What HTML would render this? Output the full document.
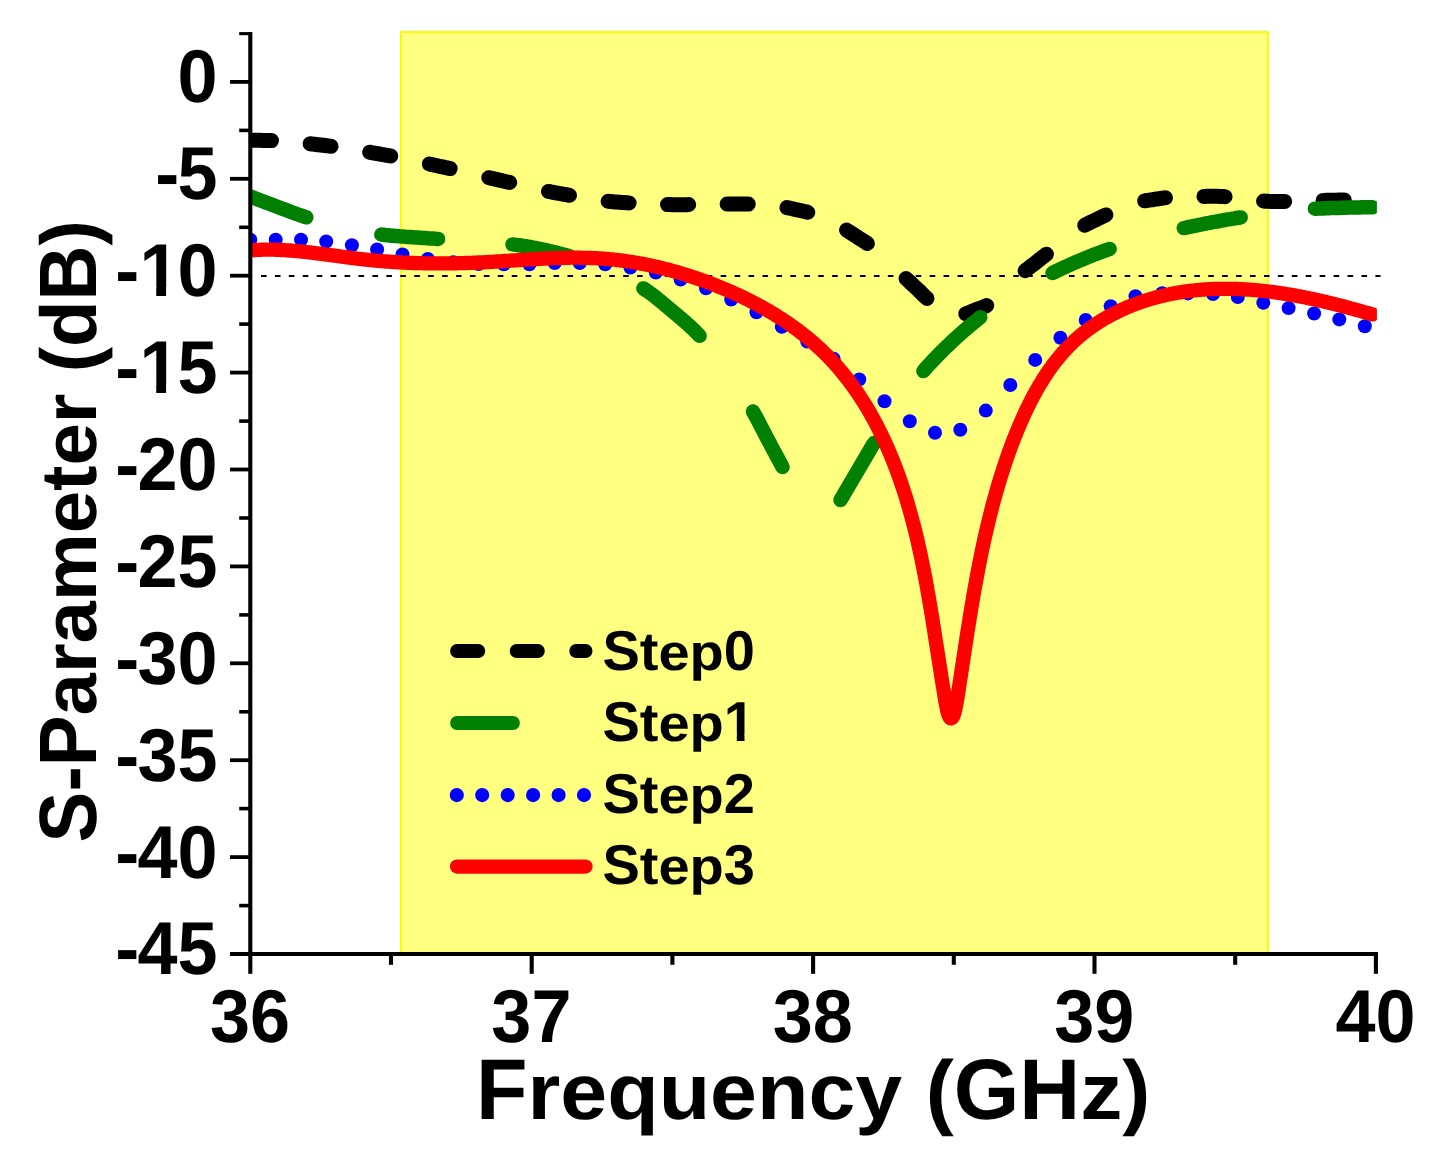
<!DOCTYPE html>
<html><head><meta charset="utf-8"><title>S-Parameter vs Frequency</title>
<style>
html,body{margin:0;padding:0;background:#fff;}
body{width:1449px;height:1173px;overflow:hidden;font-family:"Liberation Sans",sans-serif;}
svg{display:block;}
</style></head><body>
<svg width="1449" height="1173" viewBox="0 0 1449 1173">
<rect x="0" y="0" width="1449" height="1173" fill="#fff"/>
<rect x="400" y="31" width="869" height="923" fill="#ffff80"/>
<rect x="401" y="32" width="867" height="923" fill="none" stroke="#fcfc00" stroke-width="2"/>
<defs><clipPath id="cp"><rect x="250.3" y="20" width="1126.6" height="935"/></clipPath></defs>
<line x1="261" y1="276" x2="1380.5" y2="276" stroke="#000" stroke-width="2.2" stroke-dasharray="5.6 8.33" stroke-linecap="butt"/>
<g clip-path="url(#cp)" fill="none" stroke-linecap="round" stroke-linejoin="round">
<path d="M250.3,140.2 L251.8,140.2 L253.3,140.2 L254.8,140.2 L256.4,140.2 L257.9,140.3 L259.4,140.3 L260.9,140.3 L262.4,140.4 L263.9,140.4 L265.4,140.4 L266.9,140.5 L268.4,140.5 L270.0,140.6 L271.5,140.6" stroke="#000" stroke-width="15.0"/>
<path d="M310.1,143.8 L311.6,144.0 L313.1,144.1 L314.6,144.3 L316.1,144.5 L317.6,144.7 L319.1,144.8 L320.6,145.0 L322.1,145.2 L323.6,145.3 L325.1,145.5 L326.6,145.7 L328.1,145.9 L329.6,146.1 L331.1,146.3" stroke="#000" stroke-width="15.0"/>
<path d="M369.6,152.3 L371.1,152.5 L372.6,152.8 L374.1,153.1 L375.6,153.3 L377.1,153.6 L378.6,153.8 L380.1,154.1 L381.5,154.4 L383.0,154.6 L384.5,154.9 L386.0,155.2 L387.5,155.4 L389.0,155.7 L390.5,156.0 L390.8,156.0" stroke="#000" stroke-width="15.0"/>
<path d="M429.3,164.0 L430.8,164.3 L432.2,164.7 L433.7,165.0 L435.2,165.3 L436.7,165.6 L438.1,166.0 L439.6,166.3 L441.1,166.6 L442.6,166.9 L444.0,167.2 L445.5,167.6 L447.0,167.9 L448.5,168.2 L449.9,168.6 L450.2,168.6" stroke="#000" stroke-width="15.0"/>
<path d="M488.8,177.7 L490.3,178.0 L491.8,178.4 L493.2,178.7 L494.7,179.0 L496.2,179.4 L497.7,179.7 L499.1,180.1 L500.6,180.4 L502.1,180.7 L503.6,181.1 L505.0,181.4 L506.5,181.8 L508.0,182.1 L509.5,182.4 L509.7,182.5" stroke="#000" stroke-width="15.0"/>
<path d="M548.4,191.4 L549.9,191.7 L551.3,192.0 L552.8,192.3 L554.3,192.5 L555.8,192.8 L557.3,193.1 L558.8,193.4 L560.2,193.6 L561.7,193.9 L563.2,194.2 L564.7,194.4 L566.2,194.7 L567.7,195.0 L569.2,195.2 L569.5,195.3" stroke="#000" stroke-width="15.0"/>
<path d="M608.1,201.3 L609.6,201.4 L611.1,201.6 L612.6,201.7 L614.1,201.9 L615.6,202.0 L617.1,202.1 L618.6,202.2 L620.1,202.3 L621.6,202.4 L623.1,202.5 L624.6,202.6 L626.1,202.7 L627.6,202.8 L629.1,202.9" stroke="#000" stroke-width="15.0"/>
<path d="M667.5,204.6 L669.1,204.6 L670.6,204.6 L672.1,204.7 L673.6,204.7 L675.1,204.7 L676.6,204.7 L678.1,204.7 L679.6,204.7 L681.1,204.7 L682.7,204.7 L684.2,204.7 L685.7,204.7 L687.2,204.7 L688.7,204.6" stroke="#000" stroke-width="15.0"/>
<path d="M727.1,204.0 L728.6,204.0 L730.1,203.9 L731.7,203.9 L733.2,203.9 L734.7,203.9 L736.2,203.9 L737.7,203.9 L739.2,203.9 L740.7,203.9 L742.2,203.9 L743.7,204.0 L745.3,204.0 L746.8,204.1 L748.3,204.1" stroke="#000" stroke-width="15.0"/>
<path d="M786.9,207.6 L788.3,207.9 L789.8,208.2 L791.3,208.5 L792.8,208.8 L794.2,209.2 L795.7,209.6 L797.2,209.9 L798.7,210.2 L800.2,210.5 L801.6,210.9 L803.1,211.2 L804.6,211.5 L806.1,211.8 L807.5,212.2 L807.8,212.3" stroke="#000" stroke-width="15.0"/>
<path d="M846.5,230.1 L847.8,230.9 L849.1,231.7 L850.4,232.5 L851.7,233.3 L852.9,234.2 L854.2,235.0 L855.4,235.8 L856.7,236.7 L858.0,237.5 L859.3,238.3 L860.6,239.1 L861.8,239.9 L863.1,240.7 L864.4,241.5 L865.7,242.3 L866.9,243.2 L867.4,243.5" stroke="#000" stroke-width="15.0"/>
<path d="M906.0,278.5 L907.1,279.5 L908.2,280.5 L909.3,281.5 L910.4,282.6 L911.5,283.6 L912.6,284.6 L913.7,285.7 L914.8,286.7 L915.9,287.8 L917.0,288.8 L918.1,289.8 L919.2,290.9 L920.3,291.9 L921.3,293.0 L922.4,294.1 L923.5,295.1 L924.6,296.2 L925.7,297.2 L926.8,298.2 L927.0,298.4" stroke="#000" stroke-width="15.0"/>
<path d="M965.7,313.7 L967.1,313.2 L968.5,312.7 L969.9,312.2 L971.3,311.6 L972.7,311.0 L974.1,310.5 L975.5,309.9 L976.9,309.4 L978.4,308.8 L979.8,308.3 L981.3,307.8 L982.7,307.3 L984.1,306.7 L985.8,306.0 L986.8,305.5" stroke="#000" stroke-width="15.0"/>
<path d="M1025.1,270.8 L1026.3,269.8 L1027.5,268.9 L1028.7,268.0 L1029.9,267.0 L1031.1,266.1 L1032.3,265.2 L1033.5,264.3 L1034.7,263.4 L1035.9,262.4 L1037.1,261.5 L1038.3,260.6 L1039.4,259.6 L1040.6,258.7 L1041.8,257.8 L1043.0,256.8 L1044.2,255.9 L1045.4,255.0 L1046.4,254.2" stroke="#000" stroke-width="15.0"/>
<path d="M1084.7,225.3 L1086.3,224.4 L1087.7,223.7 L1089.0,223.0 L1090.4,222.4 L1091.7,221.7 L1093.1,221.1 L1094.5,220.4 L1095.9,219.8 L1097.2,219.1 L1098.6,218.4 L1099.9,217.8 L1101.3,217.1 L1102.6,216.4 L1104.0,215.8 L1105.4,215.2 L1105.9,214.9" stroke="#000" stroke-width="15.0"/>
<path d="M1144.6,200.8 L1146.4,200.5 L1147.8,200.3 L1149.3,200.1 L1150.8,199.9 L1152.4,199.7 L1153.9,199.5 L1155.4,199.2 L1156.8,199.0 L1158.3,198.8 L1159.8,198.5 L1161.3,198.3 L1162.8,198.1 L1164.3,197.9 L1165.5,197.8" stroke="#000" stroke-width="15.0"/>
<path d="M1203.9,196.4 L1205.4,196.4 L1207.0,196.3 L1208.5,196.3 L1210.0,196.3 L1211.5,196.3 L1213.0,196.3 L1214.5,196.3 L1216.0,196.3 L1217.5,196.3 L1219.0,196.4 L1220.5,196.4 L1222.0,196.5 L1223.6,196.6 L1225.1,196.7" stroke="#000" stroke-width="15.0"/>
<path d="M1263.6,201.1 L1265.1,201.2 L1266.6,201.3 L1268.1,201.3 L1269.6,201.4 L1271.1,201.5 L1272.7,201.5 L1274.2,201.5 L1275.7,201.5 L1277.2,201.5 L1278.7,201.5 L1280.2,201.5 L1281.7,201.5 L1283.2,201.4 L1284.7,201.4" stroke="#000" stroke-width="15.0"/>
<path d="M1323.1,200.4 L1324.7,200.4 L1326.2,200.3 L1327.7,200.3 L1329.2,200.3 L1330.7,200.2 L1332.2,200.2 L1333.7,200.2 L1335.2,200.2 L1336.8,200.2 L1338.3,200.1 L1339.8,200.1 L1341.3,200.1 L1342.8,200.1 L1344.3,200.1" stroke="#000" stroke-width="15.0"/>
<path d="M250.3,196.5 L251.9,197.1 L253.5,197.7 L255.2,198.4 L256.8,199.0 L258.4,199.6 L260.0,200.2 L261.6,200.9 L263.3,201.5 L264.9,202.1 L266.5,202.7 L268.1,203.3 L269.8,203.9 L271.4,204.5 L273.0,205.1 L274.6,205.7 L276.3,206.4 L277.9,207.0 L279.5,207.6 L281.1,208.2 L282.8,208.8 L284.4,209.4 L286.0,210.0 L287.6,210.6 L289.3,211.3 L290.9,211.9 L292.5,212.5 L294.2,213.1 L295.8,213.7 L297.4,214.3 L299.1,214.9 L300.7,215.4 L302.3,216.0 L304.0,216.5 L305.6,217.1 L306.3,217.3" stroke="#008000" stroke-width="14.5"/>
<path d="M381.3,234.6 L383.0,234.8 L384.8,235.0 L386.5,235.2 L388.2,235.3 L389.9,235.5 L391.7,235.7 L393.4,235.8 L395.1,236.0 L396.8,236.1 L398.6,236.2 L400.3,236.4 L402.0,236.5 L403.8,236.6 L405.5,236.8 L407.2,236.9 L409.0,237.0 L410.7,237.1 L412.4,237.2 L414.2,237.4 L415.9,237.5 L417.6,237.6 L419.4,237.7 L421.1,237.8 L422.8,237.9 L424.6,238.0 L426.3,238.1 L428.0,238.3 L429.8,238.4 L431.5,238.5 L433.2,238.6 L435.0,238.7 L436.7,238.9 L438.1,238.9" stroke="#008000" stroke-width="14.5"/>
<path d="M512.5,244.4 L514.3,244.6 L516.0,244.9 L517.7,245.1 L519.4,245.3 L521.1,245.5 L522.8,245.8 L524.6,246.1 L526.3,246.3 L528.0,246.6 L529.7,246.9 L531.4,247.2 L533.1,247.6 L534.8,247.9 L536.6,248.2 L538.3,248.6 L540.0,248.9 L541.7,249.3 L543.4,249.7 L545.1,250.0 L546.8,250.4 L548.5,250.8 L550.2,251.2 L551.9,251.6 L553.6,252.0 L555.3,252.4 L556.9,252.9 L558.6,253.3 L560.3,253.7 L562.0,254.2 L563.7,254.6 L565.3,255.0 L567.0,255.5 L568.7,255.9 L569.3,256.1" stroke="#008000" stroke-width="14.5"/>
<path d="M643.3,288.4 L644.8,289.4 L646.2,290.3 L647.6,291.3 L649.1,292.3 L650.5,293.3 L651.8,294.3 L653.2,295.4 L654.6,296.4 L656.0,297.5 L657.3,298.6 L658.7,299.7 L660.0,300.8 L661.4,301.9 L662.7,303.0 L664.1,304.2 L665.4,305.3 L666.7,306.4 L668.1,307.5 L669.4,308.7 L670.7,309.8 L672.1,310.9 L673.4,312.0 L674.7,313.1 L676.1,314.2 L677.4,315.3 L678.7,316.5 L680.1,317.6 L681.4,318.7 L682.7,319.9 L684.1,321.0 L685.4,322.1 L686.7,323.3 L688.0,324.5 L689.3,325.6 L690.6,326.8 L691.8,328.0 L693.1,329.2 L694.3,330.4 L695.5,331.6 L696.8,332.8 L698.0,334.1 L699.1,335.3 L699.6,335.8" stroke="#008000" stroke-width="14.5"/>
<path d="M753.0,411.6 L753.8,413.0 L754.7,414.6 L755.5,416.1 L756.4,417.6 L757.2,419.1 L758.0,420.6 L758.8,422.2 L759.6,423.7 L760.4,425.3 L761.2,426.8 L762.0,428.4 L762.8,429.9 L763.6,431.4 L764.4,433.0 L765.2,434.5 L766.0,436.1 L766.8,437.6 L767.6,439.2 L768.4,440.7 L769.3,442.2 L770.1,443.7 L770.9,445.3 L771.7,446.8 L772.5,448.3 L773.3,449.9 L774.2,451.4 L775.0,452.9 L775.8,454.5 L776.6,456.0 L777.4,457.5 L778.3,459.1 L779.1,460.6 L779.9,462.1 L780.7,463.7 L781.5,465.2 L782.3,466.7 L782.5,467.0" stroke="#008000" stroke-width="14.5"/>
<path d="M840.5,500.0 L841.4,498.5 L842.3,497.0 L843.2,495.5 L844.0,494.0 L844.9,492.5 L845.8,491.0 L846.7,489.5 L847.6,488.0 L848.4,486.5 L849.3,485.0 L850.2,483.5 L851.1,482.0 L852.0,480.6 L852.8,479.1 L853.7,477.6 L854.6,476.1 L855.5,474.6 L856.4,473.1 L857.3,471.6 L858.1,470.1 L859.0,468.6 L859.9,467.1 L860.8,465.6 L861.6,464.1 L862.5,462.6 L863.4,461.1 L864.3,459.6 L865.2,458.1 L866.0,456.6 L866.9,455.1 L867.8,453.6 L868.7,452.1 L869.6,450.6 L870.4,449.1 L871.3,447.6 L872.2,446.1 L873.1,444.6 L874.0,443.2 L874.2,442.9" stroke="#008000" stroke-width="14.5"/>
<path d="M923.4,371.1 L924.5,369.8 L925.6,368.5 L926.8,367.2 L928.0,365.9 L929.1,364.6 L930.3,363.3 L931.5,362.0 L932.7,360.8 L933.9,359.5 L935.1,358.3 L936.3,357.0 L937.5,355.8 L938.7,354.5 L939.9,353.3 L941.2,352.0 L942.4,350.8 L943.6,349.6 L944.9,348.4 L946.1,347.2 L947.4,346.0 L948.6,344.8 L949.9,343.6 L951.1,342.4 L952.4,341.2 L953.7,340.0 L954.9,338.8 L956.2,337.7 L957.5,336.5 L958.8,335.3 L960.1,334.2 L961.4,333.0 L962.7,331.9 L964.0,330.7 L965.3,329.6 L966.7,328.5 L968.0,327.4 L969.3,326.2 L970.6,325.1 L972.0,324.0 L973.3,322.9 L974.7,321.8 L976.0,320.7 L977.4,319.6 L978.7,318.5 L980.1,317.4 L980.3,317.2" stroke="#008000" stroke-width="14.5"/>
<path d="M1052.6,272.9 L1054.2,272.1 L1055.7,271.4 L1057.3,270.6 L1058.9,269.9 L1060.4,269.1 L1062.0,268.4 L1063.6,267.7 L1065.2,267.0 L1066.8,266.2 L1068.3,265.5 L1069.9,264.8 L1071.5,264.1 L1073.1,263.4 L1074.7,262.7 L1076.3,262.0 L1077.9,261.3 L1079.5,260.6 L1081.1,260.0 L1082.7,259.3 L1084.3,258.6 L1085.9,258.0 L1087.5,257.3 L1089.1,256.7 L1090.7,256.0 L1092.3,255.4 L1093.9,254.7 L1095.6,254.1 L1097.2,253.5 L1098.8,252.9 L1100.4,252.3 L1102.1,251.6 L1103.7,251.0 L1105.3,250.5 L1107.0,249.9 L1108.6,249.3 L1109.6,248.9" stroke="#008000" stroke-width="14.5"/>
<path d="M1183.8,228.1 L1185.5,227.8 L1187.2,227.4 L1188.8,227.0 L1190.5,226.7 L1192.2,226.3 L1193.9,226.0 L1195.6,225.6 L1197.3,225.3 L1199.0,224.9 L1200.7,224.6 L1202.4,224.2 L1204.1,223.9 L1205.9,223.5 L1207.6,223.2 L1209.3,222.9 L1211.0,222.5 L1212.7,222.2 L1214.4,221.9 L1216.1,221.6 L1217.8,221.3 L1219.5,221.0 L1221.2,220.6 L1222.9,220.3 L1224.6,220.0 L1226.4,219.7 L1228.1,219.4 L1229.8,219.2 L1231.5,218.9 L1233.2,218.6 L1234.9,218.3 L1236.6,218.0 L1238.3,217.8 L1240.1,217.5 L1240.7,217.4" stroke="#008000" stroke-width="14.5"/>
<path d="M1314.9,208.7 L1316.6,208.7 L1318.3,208.6 L1320.1,208.5 L1321.8,208.4 L1323.5,208.4 L1325.3,208.3 L1327.0,208.2 L1328.7,208.2 L1330.5,208.1 L1332.2,208.1 L1334.0,208.0 L1335.7,208.0 L1337.4,207.9 L1339.2,207.9 L1340.9,207.8 L1342.6,207.8 L1344.4,207.7 L1346.1,207.7 L1347.8,207.6 L1349.6,207.6 L1351.3,207.5 L1353.1,207.5 L1354.8,207.5 L1356.5,207.4 L1358.3,207.4 L1360.0,207.4 L1361.7,207.3 L1363.5,207.3 L1365.2,207.3 L1366.9,207.3 L1368.7,207.2 L1370.4,207.2 L1372.2,207.2 L1372.5,207.2" stroke="#008000" stroke-width="14.5"/>
<circle cx="250.3" cy="239.7" r="7.0" fill="#0000ff"/>
<circle cx="275.7" cy="239.7" r="7.0" fill="#0000ff"/>
<circle cx="301.0" cy="239.7" r="7.0" fill="#0000ff"/>
<circle cx="326.2" cy="241.5" r="7.0" fill="#0000ff"/>
<circle cx="351.9" cy="245.3" r="7.0" fill="#0000ff"/>
<circle cx="377.1" cy="249.5" r="7.0" fill="#0000ff"/>
<circle cx="402.5" cy="254.4" r="7.0" fill="#0000ff"/>
<circle cx="427.8" cy="259.0" r="7.0" fill="#0000ff"/>
<circle cx="453.2" cy="262.2" r="7.0" fill="#0000ff"/>
<circle cx="478.6" cy="264.0" r="7.0" fill="#0000ff"/>
<circle cx="503.9" cy="264.3" r="7.0" fill="#0000ff"/>
<circle cx="529.4" cy="264.2" r="7.0" fill="#0000ff"/>
<circle cx="554.7" cy="263.1" r="7.0" fill="#0000ff"/>
<circle cx="579.8" cy="263.1" r="7.0" fill="#0000ff"/>
<circle cx="605.2" cy="264.3" r="7.0" fill="#0000ff"/>
<circle cx="630.4" cy="267.5" r="7.0" fill="#0000ff"/>
<circle cx="655.8" cy="272.6" r="7.0" fill="#0000ff"/>
<circle cx="680.6" cy="279.6" r="7.0" fill="#0000ff"/>
<circle cx="706.0" cy="288.2" r="7.0" fill="#0000ff"/>
<circle cx="731.2" cy="299.5" r="7.0" fill="#0000ff"/>
<circle cx="756.5" cy="312.3" r="7.0" fill="#0000ff"/>
<circle cx="781.8" cy="326.8" r="7.0" fill="#0000ff"/>
<circle cx="807.2" cy="341.5" r="7.0" fill="#0000ff"/>
<circle cx="833.6" cy="358.8" r="7.0" fill="#0000ff"/>
<circle cx="859.3" cy="379.4" r="7.0" fill="#0000ff"/>
<circle cx="884.5" cy="401.3" r="7.0" fill="#0000ff"/>
<circle cx="909.8" cy="421.3" r="7.0" fill="#0000ff"/>
<circle cx="935.0" cy="432.8" r="7.0" fill="#0000ff"/>
<circle cx="960.3" cy="429.7" r="7.0" fill="#0000ff"/>
<circle cx="985.8" cy="410.6" r="7.0" fill="#0000ff"/>
<circle cx="1010.3" cy="385.0" r="7.0" fill="#0000ff"/>
<circle cx="1035.2" cy="359.9" r="7.0" fill="#0000ff"/>
<circle cx="1060.4" cy="337.8" r="7.0" fill="#0000ff"/>
<circle cx="1085.7" cy="320.0" r="7.0" fill="#0000ff"/>
<circle cx="1110.7" cy="306.3" r="7.0" fill="#0000ff"/>
<circle cx="1135.5" cy="296.3" r="7.0" fill="#0000ff"/>
<circle cx="1162.2" cy="293.2" r="7.0" fill="#0000ff"/>
<circle cx="1187.8" cy="293.4" r="7.0" fill="#0000ff"/>
<circle cx="1213.0" cy="294.0" r="7.0" fill="#0000ff"/>
<circle cx="1237.8" cy="297.0" r="7.0" fill="#0000ff"/>
<circle cx="1263.3" cy="302.8" r="7.0" fill="#0000ff"/>
<circle cx="1288.6" cy="308.1" r="7.0" fill="#0000ff"/>
<circle cx="1314.1" cy="313.5" r="7.0" fill="#0000ff"/>
<circle cx="1339.3" cy="319.4" r="7.0" fill="#0000ff"/>
<circle cx="1364.8" cy="326.3" r="7.0" fill="#0000ff"/>
<path d="M250.3,250.3 L251.6,250.2 L252.9,250.1 L254.2,250.1 L255.5,250.0 L256.8,249.9 L258.1,249.9 L259.4,249.8 L260.7,249.8 L262.0,249.7 L263.3,249.7 L264.6,249.7 L265.9,249.7 L267.2,249.6 L268.5,249.6 L269.7,249.6 L271.0,249.7 L272.3,249.7 L273.6,249.7 L274.9,249.7 L276.2,249.8 L277.5,249.8 L278.8,249.9 L280.1,249.9 L281.4,250.0 L282.7,250.0 L284.0,250.1 L285.3,250.2 L286.5,250.3 L287.8,250.4 L289.1,250.5 L290.4,250.5 L291.7,250.6 L293.0,250.8 L294.3,250.9 L295.6,251.0 L296.9,251.1 L298.2,251.2 L299.4,251.3 L300.7,251.5 L302.0,251.6 L303.3,251.7 L304.6,251.9 L305.9,252.0 L307.2,252.2 L308.5,252.3 L309.7,252.4 L311.0,252.6 L312.3,252.8 L313.6,252.9 L314.9,253.1 L316.2,253.2 L317.5,253.4 L318.8,253.6 L320.0,253.7 L321.3,253.9 L322.6,254.1 L323.9,254.2 L325.2,254.4 L326.5,254.6 L327.8,254.7 L329.0,254.9 L330.3,255.1 L331.6,255.3 L332.9,255.4 L334.2,255.6 L335.5,255.8 L336.8,256.0 L338.0,256.1 L339.3,256.3 L340.6,256.5 L341.9,256.7 L343.2,256.8 L344.5,257.0 L345.8,257.2 L347.0,257.4 L348.3,257.5 L349.6,257.7 L350.9,257.9 L352.2,258.0 L353.5,258.2 L354.8,258.3 L356.0,258.5 L357.3,258.7 L358.6,258.8 L359.9,259.0 L361.2,259.1 L362.5,259.3 L363.8,259.4 L365.0,259.6 L366.3,259.7 L367.6,259.8 L368.9,260.0 L370.2,260.1 L371.5,260.2 L372.8,260.3 L374.0,260.5 L375.3,260.6 L376.6,260.7 L377.9,260.8 L379.2,260.9 L380.5,261.0 L381.8,261.1 L383.0,261.2 L384.3,261.4 L385.6,261.5 L386.9,261.5 L388.2,261.6 L389.5,261.7 L390.8,261.8 L392.0,261.9 L393.3,262.0 L394.6,262.1 L395.9,262.2 L397.2,262.2 L398.5,262.3 L399.8,262.4 L401.1,262.4 L402.3,262.5 L403.6,262.6 L404.9,262.6 L406.2,262.7 L407.5,262.8 L408.8,262.8 L410.1,262.9 L411.4,262.9 L412.7,263.0 L413.9,263.0 L415.2,263.1 L416.5,263.1 L417.8,263.1 L419.1,263.2 L420.4,263.2 L421.7,263.2 L423.0,263.3 L424.3,263.3 L425.5,263.3 L426.8,263.3 L428.1,263.4 L429.4,263.4 L430.7,263.4 L432.0,263.4 L433.3,263.4 L434.6,263.4 L435.9,263.4 L437.2,263.4 L438.4,263.4 L439.7,263.4 L441.0,263.4 L442.3,263.4 L443.6,263.4 L444.9,263.4 L446.2,263.4 L447.5,263.4 L448.8,263.4 L450.1,263.4 L451.4,263.4 L452.7,263.3 L453.9,263.3 L455.2,263.3 L456.5,263.3 L457.8,263.2 L459.1,263.2 L460.4,263.2 L461.7,263.1 L463.0,263.1 L464.3,263.1 L465.6,263.0 L466.9,263.0 L468.2,262.9 L469.5,262.9 L470.8,262.8 L472.1,262.8 L473.4,262.7 L474.7,262.7 L475.9,262.6 L477.2,262.6 L478.5,262.5 L479.8,262.5 L481.1,262.4 L482.4,262.3 L483.7,262.3 L485.0,262.2 L486.3,262.1 L487.6,262.1 L488.9,262.0 L490.2,261.9 L491.5,261.8 L492.8,261.8 L494.1,261.7 L495.4,261.6 L496.7,261.5 L498.0,261.4 L499.3,261.4 L500.6,261.3 L501.9,261.2 L503.2,261.1 L504.5,261.0 L505.8,260.9 L507.1,260.9 L508.4,260.8 L509.7,260.7 L511.0,260.6 L512.3,260.5 L513.6,260.4 L514.9,260.3 L516.2,260.3 L517.5,260.2 L518.8,260.1 L520.1,260.0 L521.4,259.9 L522.7,259.8 L524.0,259.8 L525.3,259.7 L526.6,259.6 L527.9,259.5 L529.2,259.4 L530.5,259.3 L531.8,259.3 L533.1,259.2 L534.4,259.1 L535.7,259.0 L537.0,259.0 L538.3,258.9 L539.6,258.8 L540.9,258.8 L542.2,258.7 L543.5,258.6 L544.8,258.6 L546.1,258.5 L547.4,258.4 L548.6,258.4 L549.9,258.3 L551.2,258.3 L552.5,258.2 L553.8,258.2 L555.1,258.1 L556.4,258.1 L557.7,258.0 L559.0,258.0 L560.3,257.9 L561.6,257.9 L562.9,257.9 L564.2,257.8 L565.5,257.8 L566.8,257.8 L568.1,257.8 L569.4,257.8 L570.7,257.7 L572.0,257.7 L573.3,257.7 L574.5,257.7 L575.8,257.7 L577.1,257.7 L578.4,257.7 L579.7,257.7 L581.0,257.8 L582.3,257.8 L583.6,257.8 L584.9,257.8 L586.2,257.9 L587.4,257.9 L588.7,257.9 L590.0,258.0 L591.3,258.0 L592.6,258.1 L593.9,258.1 L595.2,258.2 L596.5,258.2 L597.7,258.3 L599.0,258.4 L600.3,258.5 L601.6,258.6 L602.9,258.6 L604.2,258.7 L605.4,258.8 L606.7,258.9 L608.0,259.0 L609.3,259.2 L610.6,259.3 L611.8,259.4 L613.1,259.5 L614.4,259.7 L615.7,259.8 L617.0,260.0 L618.2,260.1 L619.5,260.3 L620.8,260.4 L622.1,260.6 L623.3,260.7 L624.6,260.9 L625.9,261.1 L627.2,261.3 L628.4,261.5 L629.7,261.7 L631.0,261.9 L632.3,262.1 L633.5,262.3 L634.8,262.5 L636.1,262.7 L637.3,262.9 L638.6,263.1 L639.9,263.4 L641.1,263.6 L642.4,263.8 L643.7,264.1 L644.9,264.3 L646.2,264.6 L647.5,264.8 L648.7,265.1 L650.0,265.3 L651.2,265.6 L652.5,265.9 L653.8,266.2 L655.0,266.5 L656.3,266.7 L657.5,267.0 L658.8,267.3 L660.0,267.6 L661.3,267.9 L662.6,268.2 L663.8,268.6 L665.1,268.9 L666.3,269.2 L667.6,269.5 L668.8,269.8 L670.1,270.2 L671.3,270.5 L672.6,270.9 L673.8,271.2 L675.1,271.6 L676.3,271.9 L677.6,272.3 L678.8,272.6 L680.0,273.0 L681.3,273.4 L682.5,273.8 L683.8,274.1 L685.0,274.5 L686.2,274.9 L687.5,275.3 L688.7,275.7 L690.0,276.1 L691.2,276.5 L692.4,276.9 L693.7,277.3 L694.9,277.7 L696.1,278.1 L697.3,278.6 L698.6,279.0 L699.8,279.4 L701.0,279.9 L702.3,280.3 L703.5,280.7 L704.7,281.2 L705.9,281.6 L707.2,282.1 L708.4,282.5 L709.6,283.0 L710.8,283.5 L712.0,283.9 L713.3,284.4 L714.5,284.9 L715.7,285.4 L716.9,285.8 L718.1,286.3 L719.3,286.8 L720.5,287.3 L721.8,287.8 L723.0,288.3 L724.2,288.8 L725.4,289.3 L726.6,289.8 L727.8,290.4 L729.0,290.9 L730.2,291.4 L731.4,291.9 L732.6,292.5 L733.8,293.0 L735.0,293.5 L736.1,294.1 L737.3,294.6 L738.5,295.2 L739.7,295.7 L740.9,296.3 L742.1,296.9 L743.3,297.4 L744.4,298.0 L745.6,298.6 L746.8,299.1 L748.0,299.7 L749.1,300.3 L750.3,300.9 L751.4,301.5 L752.6,302.1 L753.8,302.7 L754.9,303.3 L756.1,303.9 L757.2,304.5 L758.4,305.2 L759.5,305.8 L760.7,306.4 L761.8,307.0 L763.0,307.7 L764.1,308.3 L765.2,309.0 L766.4,309.6 L767.5,310.3 L768.6,310.9 L769.7,311.6 L770.9,312.2 L772.0,312.9 L773.1,313.6 L774.2,314.3 L775.3,314.9 L776.4,315.6 L777.5,316.3 L778.6,317.0 L779.7,317.7 L780.8,318.4 L781.9,319.1 L783.0,319.8 L784.1,320.5 L785.2,321.3 L786.2,322.0 L787.3,322.7 L788.4,323.4 L789.4,324.2 L790.5,324.9 L791.6,325.7 L792.6,326.4 L793.7,327.2 L794.7,327.9 L795.8,328.7 L796.8,329.5 L797.8,330.2 L798.9,331.0 L799.9,331.8 L800.9,332.6 L801.9,333.4 L803.0,334.2 L804.0,335.0 L805.0,335.8 L806.0,336.6 L807.0,337.4 L808.0,338.2 L809.0,339.0 L810.0,339.9 L810.9,340.7 L811.9,341.5 L812.9,342.4 L813.9,343.2 L814.8,344.1 L815.8,344.9 L816.7,345.8 L817.7,346.6 L818.6,347.5 L819.6,348.4 L820.5,349.2 L821.5,350.1 L822.4,351.0 L823.3,351.9 L824.2,352.8 L825.1,353.7 L826.1,354.6 L827.0,355.5 L827.9,356.4 L828.8,357.4 L829.6,358.3 L830.5,359.2 L831.4,360.1 L832.3,361.1 L833.2,362.0 L834.0,363.0 L834.9,363.9 L835.7,364.9 L836.6,365.8 L837.4,366.8 L838.3,367.8 L839.1,368.7 L839.9,369.7 L840.8,370.7 L841.6,371.7 L842.4,372.7 L843.2,373.7 L844.0,374.7 L844.8,375.7 L845.6,376.7 L846.4,377.7 L847.2,378.7 L848.0,379.7 L848.8,380.7 L849.5,381.8 L850.3,382.8 L851.1,383.8 L851.8,384.9 L852.6,385.9 L853.3,387.0 L854.1,388.0 L854.8,389.1 L855.6,390.1 L856.3,391.2 L857.0,392.2 L857.8,393.3 L858.5,394.4 L859.2,395.4 L859.9,396.5 L860.6,397.6 L861.3,398.7 L862.0,399.8 L862.7,400.8 L863.4,401.9 L864.1,403.0 L864.8,404.1 L865.4,405.2 L866.1,406.3 L866.8,407.4 L867.4,408.6 L868.1,409.7 L868.8,410.8 L869.4,411.9 L870.1,413.0 L870.7,414.2 L871.3,415.3 L872.0,416.4 L872.6,417.5 L873.2,418.7 L873.8,419.8 L874.5,421.0 L875.1,422.1 L875.7,423.2 L876.3,424.4 L876.9,425.5 L877.5,426.7 L878.1,427.9 L878.7,429.0 L879.2,430.2 L879.8,431.3 L880.4,432.5 L881.0,433.7 L881.5,434.8 L882.1,436.0 L882.7,437.2 L883.2,438.4 L883.8,439.5 L884.3,440.7 L884.9,441.9 L885.4,443.1 L885.9,444.3 L886.5,445.4 L887.0,446.6 L887.5,447.8 L888.1,449.0 L888.6,450.2 L889.1,451.4 L889.6,452.6 L890.1,453.8 L890.6,455.0 L891.1,456.2 L891.6,457.4 L892.1,458.6 L892.6,459.8 L893.1,461.0 L893.5,462.2 L894.0,463.4 L894.5,464.6 L895.0,465.8 L895.4,467.1 L895.9,468.3 L896.4,469.5 L896.8,470.7 L897.3,471.9 L897.7,473.1 L898.2,474.4 L898.6,475.6 L899.0,476.8 L899.5,478.0 L899.9,479.2 L900.3,480.5 L900.8,481.7 L901.2,482.9 L901.6,484.2 L902.0,485.4 L902.4,486.6 L902.8,487.8 L903.2,489.1 L903.6,490.3 L904.0,491.5 L904.4,492.8 L904.8,494.0 L905.2,495.2 L905.6,496.5 L906.0,497.7 L906.4,498.9 L906.7,500.2 L907.1,501.4 L907.5,502.7 L907.8,503.9 L908.2,505.1 L908.6,506.4 L908.9,507.6 L909.3,508.9 L909.6,510.1 L910.0,511.4 L910.3,512.6 L910.7,513.9 L911.0,515.1 L911.4,516.4 L911.7,517.6 L912.1,518.9 L912.4,520.1 L912.7,521.4 L913.0,522.6 L913.4,523.9 L913.7,525.1 L914.0,526.4 L914.3,527.6 L914.6,528.9 L915.0,530.1 L915.3,531.4 L915.6,532.7 L915.9,533.9 L916.2,535.2 L916.5,536.4 L916.8,537.7 L917.1,539.0 L917.4,540.2 L917.7,541.5 L918.0,542.7 L918.2,544.0 L918.5,545.3 L918.8,546.5 L919.1,547.8 L919.4,549.1 L919.7,550.3 L919.9,551.6 L920.2,552.9 L920.5,554.1 L920.7,555.4 L921.0,556.7 L921.3,557.9 L921.5,559.2 L921.8,560.5 L922.1,561.7 L922.3,563.0 L922.6,564.3 L922.8,565.5 L923.1,566.8 L923.4,568.1 L923.6,569.4 L923.9,570.6 L924.1,571.9 L924.3,573.2 L924.6,574.5 L924.8,575.7 L925.1,577.0 L925.3,578.3 L925.6,579.5 L925.8,580.8 L926.0,582.1 L926.3,583.4 L926.5,584.7 L926.7,585.9 L927.0,587.2 L927.2,588.5 L927.4,589.8 L927.6,591.0 L927.9,592.3 L928.1,593.6 L928.3,594.9 L928.5,596.1 L928.8,597.4 L929.0,598.7 L929.2,600.0 L929.4,601.3 L929.6,602.5 L929.9,603.8 L930.1,605.1 L930.3,606.4 L930.5,607.7 L930.7,608.9 L930.9,610.2 L931.1,611.5 L931.3,612.8 L931.6,614.1 L931.8,615.3 L932.0,616.6 L932.2,617.9 L932.4,619.2 L932.6,620.5 L932.8,621.7 L933.0,623.0 L933.2,624.3 L933.4,625.6 L933.6,626.9 L933.8,628.1 L934.0,629.4 L934.2,630.7 L934.4,632.0 L934.6,633.3 L934.8,634.5 L935.0,635.8 L935.2,637.1 L935.4,638.4 L935.6,639.7 L935.8,640.9 L936.0,642.2 L936.2,643.5 L936.4,644.8 L936.6,646.1 L936.8,647.3 L937.0,648.6 L937.2,649.9 L937.4,651.2 L937.6,652.5 L937.8,653.7 L938.0,655.0 L938.2,656.3 L938.4,657.6 L938.6,658.9 L938.8,660.1 L939.0,661.4 L939.2,662.7 L939.4,664.0 L939.6,665.2 L939.8,666.5 L940.0,667.8 L940.2,669.1 L940.4,670.4 L940.6,671.6 L940.8,672.9 L941.0,674.2 L941.2,675.5 L941.4,676.7 L941.6,678.0 L941.8,679.3 L942.0,680.6 L942.2,681.8 L942.4,683.1 L942.6,684.4 L942.8,685.6 L943.0,686.9 L943.3,688.2 L943.5,689.5 L943.7,690.7 L943.9,692.0 L944.1,693.3 L944.3,694.5 L944.5,695.8 L944.7,697.1 L945.2,700.2 L945.5,702.1 L945.9,703.9 L946.2,705.6 L946.5,707.2 L946.8,708.7 L947.1,710.1 L947.4,711.4 L947.8,712.6 L948.1,713.7 L948.4,714.6 L949.0,716.2 L949.7,717.4 L950.6,718.4 L951.9,718.2 L952.8,716.9 L953.5,715.5 L954.1,713.7 L954.4,712.6 L954.8,711.4 L955.1,710.1 L955.4,708.7 L955.7,707.2 L956.0,705.6 L956.3,703.9 L956.7,702.1 L957.0,700.2 L957.4,698.1 L957.6,697.0 L957.7,695.8 L957.9,694.7 L958.1,693.6 L958.3,692.4 L958.4,691.3 L958.6,690.1 L958.8,689.0 L959.0,687.8 L959.1,686.7 L959.3,685.5 L959.5,684.4 L959.7,683.2 L959.8,682.1 L960.0,680.9 L960.2,679.8 L960.4,678.6 L960.5,677.5 L960.7,676.3 L960.9,675.2 L961.1,674.0 L961.2,672.9 L961.4,671.7 L961.6,670.6 L961.8,669.4 L961.9,668.3 L962.1,667.1 L962.3,666.0 L962.4,664.8 L962.6,663.7 L962.8,662.5 L963.0,661.4 L963.1,660.2 L963.3,659.1 L963.5,657.9 L963.7,656.8 L963.8,655.6 L964.0,654.5 L964.2,653.4 L964.4,652.2 L964.5,651.1 L964.7,649.9 L964.9,648.8 L965.1,647.6 L965.2,646.5 L965.4,645.3 L965.6,644.2 L965.8,643.0 L965.9,641.9 L966.1,640.7 L966.3,639.6 L966.5,638.4 L966.6,637.3 L966.8,636.2 L967.0,635.0 L967.2,633.9 L967.4,632.7 L967.5,631.6 L967.7,630.4 L967.9,629.3 L968.1,628.1 L968.3,627.0 L968.4,625.8 L968.6,624.7 L968.8,623.6 L969.0,622.4 L969.2,621.3 L969.4,620.1 L969.5,619.0 L969.7,617.8 L969.9,616.7 L970.1,615.5 L970.3,614.4 L970.5,613.3 L970.7,612.1 L970.8,611.0 L971.0,609.8 L971.2,608.7 L971.4,607.5 L971.6,606.4 L971.8,605.3 L972.0,604.1 L972.2,603.0 L972.4,601.8 L972.6,600.7 L972.8,599.5 L973.0,598.4 L973.1,597.3 L973.3,596.1 L973.5,595.0 L973.7,593.8 L973.9,592.7 L974.1,591.6 L974.3,590.4 L974.5,589.3 L974.7,588.1 L974.9,587.0 L975.2,585.9 L975.4,584.7 L975.6,583.6 L975.8,582.4 L976.0,581.3 L976.2,580.2 L976.4,579.0 L976.6,577.9 L976.8,576.8 L977.0,575.6 L977.2,574.5 L977.5,573.3 L977.7,572.2 L977.9,571.1 L978.1,569.9 L978.3,568.8 L978.5,567.7 L978.8,566.5 L979.0,565.4 L979.2,564.2 L979.4,563.1 L979.7,562.0 L979.9,560.8 L980.1,559.7 L980.3,558.6 L980.6,557.4 L980.8,556.3 L981.0,555.2 L981.3,554.0 L981.5,552.9 L981.7,551.8 L982.0,550.6 L982.2,549.5 L982.4,548.4 L982.7,547.2 L982.9,546.1 L983.2,545.0 L983.4,543.8 L983.6,542.7 L983.9,541.6 L984.1,540.5 L984.4,539.3 L984.6,538.2 L984.9,537.1 L985.1,535.9 L985.4,534.8 L985.7,533.7 L985.9,532.5 L986.2,531.4 L986.4,530.3 L986.7,529.2 L987.0,528.0 L987.2,526.9 L987.5,525.8 L987.8,524.7 L988.0,523.5 L988.3,522.4 L988.6,521.3 L988.8,520.2 L989.1,519.0 L989.4,517.9 L989.7,516.8 L989.9,515.7 L990.2,514.5 L990.5,513.4 L990.8,512.3 L991.1,511.2 L991.4,510.0 L991.7,508.9 L991.9,507.8 L992.2,506.7 L992.5,505.5 L992.8,504.4 L993.1,503.3 L993.4,502.2 L993.7,501.1 L994.0,499.9 L994.3,498.8 L994.6,497.7 L995.0,496.6 L995.3,495.5 L995.6,494.3 L995.9,493.2 L996.2,492.1 L996.5,491.0 L996.8,489.9 L997.2,488.8 L997.5,487.6 L997.8,486.5 L998.1,485.4 L998.5,484.3 L998.8,483.2 L999.1,482.1 L999.5,481.0 L999.8,479.8 L1000.1,478.7 L1000.5,477.6 L1000.8,476.5 L1001.2,475.4 L1001.5,474.3 L1001.9,473.2 L1002.2,472.1 L1002.6,471.0 L1002.9,469.9 L1003.3,468.8 L1003.6,467.7 L1004.0,466.5 L1004.4,465.4 L1004.7,464.3 L1005.1,463.2 L1005.5,462.1 L1005.9,461.0 L1006.2,459.9 L1006.6,458.8 L1007.0,457.7 L1007.4,456.6 L1007.8,455.5 L1008.1,454.4 L1008.5,453.3 L1008.9,452.2 L1009.3,451.1 L1009.7,450.1 L1010.1,449.0 L1010.5,447.9 L1010.9,446.8 L1011.3,445.7 L1011.7,444.6 L1012.1,443.5 L1012.6,442.4 L1013.0,441.3 L1013.4,440.2 L1013.8,439.2 L1014.2,438.1 L1014.7,437.0 L1015.1,435.9 L1015.5,434.8 L1016.0,433.8 L1016.4,432.7 L1016.8,431.6 L1017.3,430.5 L1017.7,429.4 L1018.2,428.4 L1018.6,427.3 L1019.1,426.2 L1019.5,425.1 L1020.0,424.1 L1020.5,423.0 L1020.9,421.9 L1021.4,420.9 L1021.9,419.8 L1022.3,418.7 L1022.8,417.7 L1023.3,416.6 L1023.8,415.5 L1024.3,414.5 L1024.7,413.4 L1025.2,412.4 L1025.7,411.3 L1026.2,410.3 L1026.7,409.2 L1027.2,408.2 L1027.7,407.1 L1028.3,406.1 L1028.8,405.0 L1029.3,404.0 L1029.8,402.9 L1030.3,401.9 L1030.9,400.9 L1031.4,399.8 L1031.9,398.8 L1032.5,397.8 L1033.0,396.7 L1033.5,395.7 L1034.1,394.7 L1034.7,393.7 L1035.2,392.7 L1035.8,391.6 L1036.3,390.6 L1036.9,389.6 L1037.5,388.6 L1038.1,387.6 L1038.6,386.6 L1039.2,385.6 L1039.8,384.6 L1040.4,383.6 L1041.0,382.6 L1041.6,381.7 L1042.2,380.7 L1042.8,379.7 L1043.4,378.7 L1044.1,377.7 L1044.7,376.8 L1045.3,375.8 L1045.9,374.9 L1046.6,373.9 L1047.2,372.9 L1047.9,372.0 L1048.5,371.0 L1049.2,370.1 L1049.8,369.2 L1050.5,368.2 L1051.2,367.3 L1051.8,366.4 L1052.5,365.4 L1053.2,364.5 L1053.9,363.6 L1054.6,362.7 L1055.3,361.8 L1056.0,360.9 L1056.7,360.0 L1057.4,359.1 L1058.2,358.2 L1058.9,357.3 L1059.6,356.5 L1060.3,355.6 L1061.1,354.7 L1061.8,353.8 L1062.6,353.0 L1063.3,352.1 L1064.1,351.3 L1064.9,350.4 L1065.7,349.6 L1066.4,348.8 L1067.2,347.9 L1068.0,347.1 L1068.8,346.3 L1069.6,345.5 L1070.4,344.7 L1071.2,343.9 L1072.1,343.1 L1072.9,342.3 L1073.7,341.5 L1074.6,340.7 L1075.4,339.9 L1076.3,339.2 L1077.1,338.4 L1078.0,337.6 L1078.9,336.9 L1079.7,336.1 L1080.6,335.4 L1081.5,334.7 L1082.4,333.9 L1083.3,333.2 L1084.2,332.5 L1085.1,331.8 L1086.0,331.1 L1086.9,330.4 L1087.9,329.7 L1088.8,329.0 L1089.7,328.3 L1090.7,327.7 L1091.6,327.0 L1092.6,326.3 L1093.5,325.7 L1094.5,325.0 L1095.5,324.4 L1096.4,323.7 L1097.4,323.1 L1098.4,322.5 L1099.4,321.8 L1100.4,321.2 L1101.3,320.6 L1102.3,320.0 L1103.3,319.4 L1104.3,318.8 L1105.4,318.2 L1106.4,317.7 L1107.4,317.1 L1108.4,316.5 L1109.4,316.0 L1110.5,315.4 L1111.5,314.8 L1112.5,314.3 L1113.6,313.8 L1114.6,313.2 L1115.6,312.7 L1116.7,312.2 L1117.7,311.7 L1118.8,311.2 L1119.9,310.7 L1120.9,310.2 L1122.0,309.7 L1123.0,309.2 L1124.1,308.7 L1125.2,308.2 L1126.3,307.8 L1127.3,307.3 L1128.4,306.9 L1129.5,306.4 L1130.6,306.0 L1131.7,305.5 L1132.7,305.1 L1133.8,304.7 L1134.9,304.3 L1136.0,303.9 L1137.1,303.4 L1138.2,303.0 L1139.3,302.7 L1140.4,302.3 L1141.5,301.9 L1142.6,301.5 L1143.7,301.1 L1144.8,300.8 L1145.9,300.4 L1147.0,300.1 L1148.1,299.7 L1149.3,299.4 L1150.4,299.1 L1151.5,298.7 L1152.6,298.4 L1153.7,298.1 L1154.8,297.8 L1156.0,297.5 L1157.1,297.2 L1158.2,296.9 L1159.3,296.6 L1160.5,296.3 L1161.6,296.0 L1162.7,295.8 L1163.8,295.5 L1165.0,295.2 L1166.1,295.0 L1167.2,294.7 L1168.4,294.5 L1169.5,294.3 L1170.6,294.0 L1171.8,293.8 L1172.9,293.6 L1174.1,293.4 L1175.2,293.1 L1176.3,292.9 L1177.5,292.7 L1178.6,292.5 L1179.8,292.4 L1180.9,292.2 L1182.0,292.0 L1183.2,291.8 L1184.3,291.6 L1185.5,291.5 L1186.6,291.3 L1187.8,291.2 L1188.9,291.0 L1190.1,290.9 L1191.2,290.7 L1192.4,290.6 L1193.5,290.5 L1194.7,290.4 L1195.8,290.2 L1197.0,290.1 L1198.1,290.0 L1199.3,289.9 L1200.4,289.8 L1201.6,289.7 L1202.8,289.6 L1203.9,289.5 L1205.1,289.5 L1206.2,289.4 L1207.4,289.3 L1208.5,289.2 L1209.7,289.2 L1210.8,289.1 L1212.0,289.1 L1213.2,289.0 L1214.3,289.0 L1215.5,288.9 L1216.6,288.9 L1217.8,288.9 L1218.9,288.8 L1220.1,288.8 L1221.3,288.8 L1222.4,288.8 L1223.6,288.8 L1224.7,288.8 L1225.9,288.8 L1227.0,288.8 L1228.2,288.8 L1229.4,288.8 L1230.5,288.8 L1231.7,288.8 L1232.8,288.9 L1234.0,288.9 L1235.1,288.9 L1236.3,289.0 L1237.4,289.0 L1238.6,289.1 L1239.8,289.1 L1240.9,289.2 L1242.1,289.2 L1243.2,289.3 L1244.4,289.3 L1245.5,289.4 L1246.7,289.5 L1247.9,289.6 L1249.0,289.6 L1250.2,289.7 L1251.3,289.8 L1252.5,289.9 L1253.6,290.0 L1254.8,290.1 L1255.9,290.2 L1257.1,290.3 L1258.3,290.4 L1259.4,290.5 L1260.6,290.6 L1261.7,290.8 L1262.9,290.9 L1264.0,291.0 L1265.2,291.1 L1266.3,291.3 L1267.5,291.4 L1268.6,291.5 L1269.8,291.7 L1270.9,291.8 L1272.1,292.0 L1273.3,292.1 L1274.4,292.3 L1275.6,292.4 L1276.7,292.6 L1277.9,292.8 L1279.0,292.9 L1280.2,293.1 L1281.3,293.3 L1282.5,293.4 L1283.6,293.6 L1284.8,293.8 L1285.9,294.0 L1287.1,294.2 L1288.2,294.4 L1289.3,294.6 L1290.5,294.7 L1291.6,294.9 L1292.8,295.1 L1293.9,295.3 L1295.1,295.6 L1296.2,295.8 L1297.4,296.0 L1298.5,296.2 L1299.7,296.4 L1300.8,296.6 L1301.9,296.8 L1303.1,297.1 L1304.2,297.3 L1305.4,297.5 L1306.5,297.7 L1307.6,298.0 L1308.8,298.2 L1309.9,298.5 L1311.1,298.7 L1312.2,298.9 L1313.3,299.2 L1314.5,299.4 L1315.6,299.7 L1316.8,299.9 L1317.9,300.2 L1319.0,300.4 L1320.2,300.7 L1321.3,300.9 L1322.4,301.2 L1323.6,301.5 L1324.7,301.7 L1325.8,302.0 L1327.0,302.3 L1328.1,302.5 L1329.2,302.8 L1330.3,303.1 L1331.5,303.4 L1332.6,303.6 L1333.7,303.9 L1334.8,304.2 L1336.0,304.5 L1337.1,304.7 L1338.2,305.0 L1339.3,305.3 L1340.5,305.6 L1341.6,305.9 L1342.7,306.2 L1343.8,306.5 L1345.0,306.8 L1346.1,307.1 L1347.2,307.4 L1348.3,307.7 L1349.4,308.0 L1350.5,308.3 L1351.7,308.6 L1352.8,308.9 L1353.9,309.2 L1355.0,309.5 L1356.1,309.8 L1357.2,310.1 L1358.3,310.4 L1359.4,310.7 L1360.6,311.0 L1361.7,311.3 L1362.8,311.6 L1363.9,312.0 L1365.0,312.3 L1366.1,312.6 L1367.2,312.9 L1368.3,313.2 L1369.4,313.5 L1370.5,313.8 L1371.6,314.2 L1372.5,314.4" stroke="#ff0000" stroke-width="14.3"/>
</g>
<g stroke="#000" fill="none" stroke-linecap="butt">
<line x1="250.3" y1="32.1" x2="250.3" y2="956.0" stroke-width="4.1"/>
<line x1="230" y1="954.0" x2="1377.9499999999998" y2="954.0" stroke-width="4"/>
<line x1="230" y1="81.9" x2="250.3" y2="81.9" stroke-width="3.8"/>
<line x1="230" y1="178.8" x2="250.3" y2="178.8" stroke-width="3.8"/>
<line x1="230" y1="275.7" x2="250.3" y2="275.7" stroke-width="3.8"/>
<line x1="230" y1="372.6" x2="250.3" y2="372.6" stroke-width="3.8"/>
<line x1="230" y1="469.5" x2="250.3" y2="469.5" stroke-width="3.8"/>
<line x1="230" y1="566.4" x2="250.3" y2="566.4" stroke-width="3.8"/>
<line x1="230" y1="663.3" x2="250.3" y2="663.3" stroke-width="3.8"/>
<line x1="230" y1="760.2" x2="250.3" y2="760.2" stroke-width="3.8"/>
<line x1="230" y1="857.1" x2="250.3" y2="857.1" stroke-width="3.8"/>
<line x1="239.2" y1="33.65" x2="250.3" y2="33.65" stroke-width="3.1"/>
<line x1="239.2" y1="130.4" x2="250.3" y2="130.4" stroke-width="3.6"/>
<line x1="239.2" y1="227.3" x2="250.3" y2="227.3" stroke-width="3.6"/>
<line x1="239.2" y1="324.1" x2="250.3" y2="324.1" stroke-width="3.6"/>
<line x1="239.2" y1="421.1" x2="250.3" y2="421.1" stroke-width="3.6"/>
<line x1="239.2" y1="518.0" x2="250.3" y2="518.0" stroke-width="3.6"/>
<line x1="239.2" y1="614.9" x2="250.3" y2="614.9" stroke-width="3.6"/>
<line x1="239.2" y1="711.8" x2="250.3" y2="711.8" stroke-width="3.6"/>
<line x1="239.2" y1="808.6" x2="250.3" y2="808.6" stroke-width="3.6"/>
<line x1="239.2" y1="905.6" x2="250.3" y2="905.6" stroke-width="3.6"/>
<line x1="250.3" y1="954.0" x2="250.3" y2="973.8" stroke-width="4.1"/>
<line x1="531.7" y1="954.0" x2="531.7" y2="973.8" stroke-width="4.1"/>
<line x1="813.1" y1="954.0" x2="813.1" y2="973.8" stroke-width="4.1"/>
<line x1="1094.5" y1="954.0" x2="1094.5" y2="973.8" stroke-width="4.1"/>
<line x1="1375.9" y1="954.0" x2="1375.9" y2="973.8" stroke-width="4.1"/>
<line x1="391.0" y1="954.0" x2="391.0" y2="964.8" stroke-width="4.1"/>
<line x1="672.4" y1="954.0" x2="672.4" y2="964.8" stroke-width="4.1"/>
<line x1="953.8" y1="954.0" x2="953.8" y2="964.8" stroke-width="4.1"/>
<line x1="1235.2" y1="954.0" x2="1235.2" y2="964.8" stroke-width="4.1"/>
</g>
<g font-family="'Liberation Sans', sans-serif" font-weight="bold" fill="#000" style="font-kerning:none" text-rendering="geometricPrecision">
<text transform="translate(177.56,102.3) scale(1,1.0405)" font-size="72">0</text>
<text transform="translate(177.56,199.2) scale(1,1.0405)" font-size="72">5</text>
<text transform="translate(155.18,199.2) scale(1,1.0405)" font-size="72">-</text>
<text transform="translate(177.56,296.1) scale(1,1.0405)" font-size="72">0</text>
<text transform="translate(139.41,296.1) scale(1,1.0405)" font-size="72">1</text>
<rect x="142.95" y="286.95" width="13.27" height="10.65" fill="#fff"/>
<rect x="166.10" y="286.95" width="12.36" height="10.65" fill="#fff"/>
<text transform="translate(115.14,296.1) scale(1,1.0405)" font-size="72">-</text>
<text transform="translate(177.56,393.0) scale(1,1.0405)" font-size="72">5</text>
<text transform="translate(139.41,393.0) scale(1,1.0405)" font-size="72">1</text>
<rect x="142.95" y="383.85" width="13.27" height="10.65" fill="#fff"/>
<rect x="166.10" y="383.85" width="12.36" height="10.65" fill="#fff"/>
<text transform="translate(115.14,393.0) scale(1,1.0405)" font-size="72">-</text>
<text transform="translate(177.56,489.9) scale(1,1.0405)" font-size="72">0</text>
<text transform="translate(137.51,489.9) scale(1,1.0405)" font-size="72">2</text>
<text transform="translate(115.14,489.9) scale(1,1.0405)" font-size="72">-</text>
<text transform="translate(177.56,586.8) scale(1,1.0405)" font-size="72">5</text>
<text transform="translate(137.51,586.8) scale(1,1.0405)" font-size="72">2</text>
<text transform="translate(115.14,586.8) scale(1,1.0405)" font-size="72">-</text>
<text transform="translate(177.56,683.7) scale(1,1.0405)" font-size="72">0</text>
<text transform="translate(137.51,683.7) scale(1,1.0405)" font-size="72">3</text>
<text transform="translate(115.14,683.7) scale(1,1.0405)" font-size="72">-</text>
<text transform="translate(177.56,780.6) scale(1,1.0405)" font-size="72">5</text>
<text transform="translate(137.51,780.6) scale(1,1.0405)" font-size="72">3</text>
<text transform="translate(115.14,780.6) scale(1,1.0405)" font-size="72">-</text>
<text transform="translate(177.56,877.5) scale(1,1.0405)" font-size="72">0</text>
<text transform="translate(137.51,877.5) scale(1,1.0405)" font-size="72">4</text>
<text transform="translate(115.14,877.5) scale(1,1.0405)" font-size="72">-</text>
<text transform="translate(177.56,974.4) scale(1,1.0405)" font-size="72">5</text>
<text transform="translate(137.51,974.4) scale(1,1.0405)" font-size="72">4</text>
<text transform="translate(115.14,974.4) scale(1,1.0405)" font-size="72">-</text>
<text transform="translate(250.0,1042) scale(1,1.0405)" font-size="72" text-anchor="middle">36</text>
<text transform="translate(531.4,1042) scale(1,1.0405)" font-size="72" text-anchor="middle">37</text>
<text transform="translate(812.8,1042) scale(1,1.0405)" font-size="72" text-anchor="middle">38</text>
<text transform="translate(1094.2,1042) scale(1,1.0405)" font-size="72" text-anchor="middle">39</text>
<text transform="translate(1375.6,1042) scale(1,1.0405)" font-size="72" text-anchor="middle">40</text>
<text transform="translate(476.00,1118.9) scale(1.0094,1.03)" font-size="83.5" xml:space="preserve">F</text>
<text transform="translate(527.48,1118.9) scale(1.0094,0.95)" font-size="83.5" xml:space="preserve">requency</text>
<text transform="translate(902.24,1118.9) scale(1.0094,1.0)" font-size="83.5" xml:space="preserve">&#160;(</text>
<text transform="translate(953.72,1118.9) scale(1.0094,1.03)" font-size="83.5" xml:space="preserve">GH</text>
<text transform="translate(1080.15,1118.9) scale(1.0094,0.95)" font-size="83.5" xml:space="preserve">z</text>
<text transform="translate(1122.29,1118.9) scale(1.0094,1.0)" font-size="83.5" xml:space="preserve">)</text>
<text transform="translate(95.9,842.40) rotate(-90) scale(0.9643,1.03)" font-size="79" xml:space="preserve">S</text>
<text transform="translate(95.9,791.59) rotate(-90) scale(0.9643,1.0)" font-size="79" xml:space="preserve">-</text>
<text transform="translate(95.9,766.22) rotate(-90) scale(0.9643,1.03)" font-size="79" xml:space="preserve">P</text>
<text transform="translate(95.9,715.41) rotate(-90) scale(0.9643,0.95)" font-size="79" xml:space="preserve">arame</text>
<text transform="translate(95.9,490.92) rotate(-90) scale(0.9643,1.0)" font-size="79" xml:space="preserve">t</text>
<text transform="translate(95.9,465.56) rotate(-90) scale(0.9643,0.95)" font-size="79" xml:space="preserve">er</text>
<text transform="translate(95.9,393.54) rotate(-90) scale(0.9643,1.0)" font-size="79" xml:space="preserve">&#160;(</text>
<text transform="translate(95.9,347.01) rotate(-90) scale(0.9643,1.0)" font-size="79" xml:space="preserve">d</text>
<text transform="translate(95.9,300.48) rotate(-90) scale(0.9643,1.03)" font-size="79" xml:space="preserve">B</text>
<text transform="translate(95.9,245.46) rotate(-90) scale(0.9643,1.0)" font-size="79" xml:space="preserve">)</text>
<text transform="translate(602.40,669.6) scale(1.037,1.04)" font-size="54" xml:space="preserve">S</text>
<text transform="translate(639.75,669.6) scale(1.037,1.0)" font-size="54" xml:space="preserve">t</text>
<text transform="translate(658.40,669.6) scale(1.037,0.95)" font-size="54" xml:space="preserve">ep</text>
<text transform="translate(723.75,669.6) scale(1.037,1.04)" font-size="54" xml:space="preserve">0</text>
<text transform="translate(602.40,741.1) scale(1.037,1.04)" font-size="54" xml:space="preserve">S</text>
<text transform="translate(639.75,741.1) scale(1.037,1.0)" font-size="54" xml:space="preserve">t</text>
<text transform="translate(658.40,741.1) scale(1.037,0.95)" font-size="54" xml:space="preserve">ep</text>
<text transform="translate(723.75,741.1) scale(1.037,1.04)" font-size="54" xml:space="preserve">1</text>
<rect x="726.27" y="733.87" width="10.54" height="8.73" fill="#ffff80"/>
<rect x="744.50" y="733.87" width="9.83" height="8.73" fill="#ffff80"/>
<text transform="translate(602.40,812.6) scale(1.037,1.04)" font-size="54" xml:space="preserve">S</text>
<text transform="translate(639.75,812.6) scale(1.037,1.0)" font-size="54" xml:space="preserve">t</text>
<text transform="translate(658.40,812.6) scale(1.037,0.95)" font-size="54" xml:space="preserve">ep</text>
<text transform="translate(723.75,812.6) scale(1.037,1.04)" font-size="54" xml:space="preserve">2</text>
<text transform="translate(602.40,884.1) scale(1.037,1.04)" font-size="54" xml:space="preserve">S</text>
<text transform="translate(639.75,884.1) scale(1.037,1.0)" font-size="54" xml:space="preserve">t</text>
<text transform="translate(658.40,884.1) scale(1.037,0.95)" font-size="54" xml:space="preserve">ep</text>
<text transform="translate(723.75,884.1) scale(1.037,1.04)" font-size="54" xml:space="preserve">3</text>
</g>
<g fill="none" stroke-linecap="round">
<path d="M457,651 L478.3,651 M516.6,651 L537.9,651 M576.2,651 L585.6,651" stroke="#000" stroke-width="13.8"/>
<path d="M457,723 L513,723" stroke="#008000" stroke-width="13.8"/>
<circle cx="456.8" cy="795.1" r="7.1" fill="#0000ff"/>
<circle cx="482.2" cy="795.1" r="7.1" fill="#0000ff"/>
<circle cx="507.7" cy="795.1" r="7.1" fill="#0000ff"/>
<circle cx="533.1" cy="795.1" r="7.1" fill="#0000ff"/>
<circle cx="558.6" cy="795.1" r="7.1" fill="#0000ff"/>
<circle cx="584.0" cy="795.1" r="7.1" fill="#0000ff"/>
<path d="M457,866.6 L585.6,866.6" stroke="#ff0000" stroke-width="14.2"/>
</g>
</svg>
</body></html>
